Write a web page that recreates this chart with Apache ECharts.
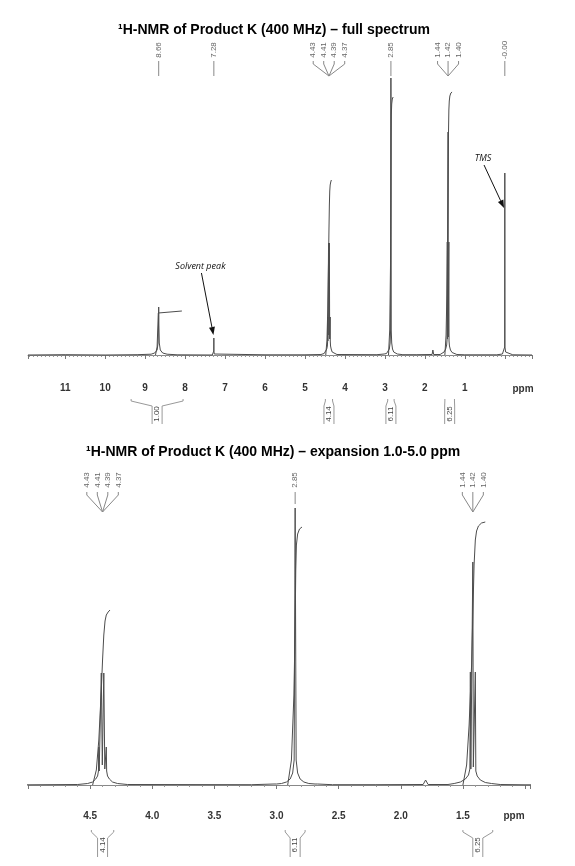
<!DOCTYPE html>
<html>
<head>
<meta charset="utf-8">
<title>1H-NMR Product K</title>
<script src="https://cdn.jsdelivr.net/npm/echarts@6/dist/echarts.min.js"></script>
<style>
  html, body { margin: 0; padding: 0; background: #fff; }
  #main { width: 575px; height: 866px; }
</style>
</head>
<body>
<div id="main"></div>
<script>
// ---- data (ppm, relative intensity) ----
var fullRange = [-0.68, 11.93];
var expansionRange = [0.96, 5.0];

var spectrum = [
  [11.93, 0], [11.0, 0.3], [10.0, 0], [9.2, 0.3], [8.85, 0.8], [8.76, 2], [8.70, 5], [8.675, 12],
  [8.665, 30], [8.66, 48], [8.655, 30], [8.645, 12], [8.62, 5], [8.56, 2], [8.45, 0.8], [8.2, 0.2],
  [7.32, 0], [7.29, 1], [7.282, 4], [7.28, 17], [7.278, 4], [7.27, 1], [7.24, 0],
  [6.0, 0.2], [5.0, 0.2],
  [4.60, 0.5], [4.52, 1.5], [4.48, 3], [4.455, 6], [4.44, 9], [4.433, 14], [4.43, 38], [4.427, 14],
  [4.418, 16], [4.41, 112], [4.402, 20], [4.398, 20], [4.39, 112], [4.382, 16], [4.373, 14],
  [4.37, 38], [4.367, 14], [4.36, 9], [4.345, 6], [4.32, 3], [4.28, 1.5], [4.20, 0.5],
  [3.2, 0.3], [3.02, 1], [3.01, 3], [3.00, 1], [2.96, 1.5], [2.92, 3], [2.89, 6], [2.87, 12],
  [2.858, 25], [2.85, 277], [2.842, 25], [2.83, 12], [2.81, 6], [2.78, 3], [2.74, 1.5],
  [2.69, 1], [2.68, 3], [2.67, 1], [2.55, 0.3],
  [2.2, 0.3], [1.82, 0.5], [1.80, 5], [1.78, 0.5],
  [1.62, 0.5], [1.57, 1.5], [1.52, 3], [1.48, 6], [1.455, 10], [1.444, 16], [1.44, 113], [1.436, 16],
  [1.424, 18], [1.42, 223], [1.416, 18], [1.404, 16], [1.40, 113], [1.396, 14], [1.385, 9],
  [1.36, 5], [1.32, 2.5], [1.27, 1.5], [1.2, 0.5], [1.0, 0.2],
  [0.2, 0.2], [0.06, 1], [0.02, 3], [0.004, 8], [0, 182], [-0.004, 8], [-0.02, 3], [-0.06, 1],
  [-0.2, 0.2], [-0.68, 0]
];

// integral curves
var integral100 = [[8.74, 0], [8.70, 8], [8.68, 30], [8.67, 42], [8.66, 44], [8.08, 44]];
var integral414 = [[4.48, 0], [4.45, 15], [4.43, 45], [4.41, 95], [4.40, 125], [4.39, 150],
  [4.38, 164], [4.37, 170], [4.355, 173], [4.34, 175]];
var integral611 = [[2.91, 0], [2.88, 25], [2.86, 90], [2.85, 160], [2.845, 215], [2.84, 240],
  [2.83, 251], [2.815, 256], [2.795, 258]];
var integral625 = [[1.50, 0], [1.47, 20], [1.45, 60], [1.43, 120], [1.42, 170], [1.41, 220],
  [1.40, 245], [1.39, 254], [1.375, 259], [1.35, 262], [1.32, 263]];
var integralCurves = [integral100, integral414, integral611, integral625];

// integral values and their ranges (ppm)
var integralValues = ['1.00', '4.14', '6.11', '6.25'];
var integralRanges = [[9.35, 8.05], [4.49, 4.31], [2.93, 2.77], [1.50, 1.26]];

// peak pick labels
var peakGroups = [
  { ppm: 8.66, labels: ['8.66'] },
  { ppm: 7.28, labels: ['7.28'] },
  { ppm: 4.40, labels: ['4.43', '4.41', '4.39', '4.37'] },
  { ppm: 2.85, labels: ['2.85'] },
  { ppm: 1.42, labels: ['1.44', '1.42', '1.40'] },
  { ppm: 0.00, labels: ['-0.00'] }
];

var titles = [
  '¹H-NMR of Product K (400 MHz) – full spectrum',
  '¹H-NMR of Product K (400 MHz) – expansion 1.0-5.0 ppm'
];

// ---- chart ----
var chart = echarts.init(document.getElementById('main'));
var LINE = '#4d4d4d';
var FONT = 'Liberation Sans, Arial, sans-serif';

function lineSeries(idx, data) {
  return {
    type: 'line', xAxisIndex: idx, yAxisIndex: idx, data: data,
    showSymbol: false, symbol: 'none', clip: true, silent: true,
    lineStyle: { color: LINE, width: 1 }
  };
}

var series = [];
[0, 1].forEach(function (g) {
  series.push(lineSeries(g, spectrum));
  integralCurves.forEach(function (c) { series.push(lineSeries(g, c)); });
});

function axis(g, range, split, minorSplit, fmt) {
  return {
    gridIndex: g, type: 'value', inverse: true, min: range[0], max: range[1],
    splitNumber: split,
    axisLine: { show: true, lineStyle: { color: '#888', width: 1 } },
    axisTick: { show: true, inside: false, length: 4, lineStyle: { color: '#777' } },
    minorTick: { show: true, splitNumber: minorSplit, length: 2, lineStyle: { color: '#999' } },
    splitLine: { show: false },
    axisLabel: {
      color: '#333', fontSize: 10, fontWeight: 'bold', fontFamily: FONT, margin: 8,
      showMinLabel: false, showMaxLabel: false, formatter: fmt
    }
  };
}

chart.setOption({
  animation: false,
  backgroundColor: '#fff',
  title: [
    { text: titles[0], left: 113, top: 18, textStyle: { fontFamily: FONT, fontSize: 14, fontWeight: 'bold', color: '#000' } },
    { text: titles[1], left: 81, top: 440, textStyle: { fontFamily: FONT, fontSize: 14, fontWeight: 'bold', color: '#000' } }
  ],
  grid: [
    { left: 28, width: 504, top: 65, height: 310 },
    { left: 28, width: 502, top: 493, height: 310 }
  ],
  xAxis: [
    axis(0, fullRange, 12, 10, function (v) {
      return (v === 0 || Math.abs(v - Math.round(v)) > 1e-6) ? '' : String(v);
    }),
    axis(1, expansionRange, 8, 5, function (v) {
      return (v < 1.45 || v > 4.55) ? '' : v.toFixed(1);
    })
  ],
  yAxis: [
    { gridIndex: 0, type: 'value', show: false, min: -20, max: 290 },
    { gridIndex: 1, type: 'value', show: false, min: -18, max: 292 }
  ],
  series: series
});

// ---- annotations (peak labels, integrals, arrows) ----
function px(g, x, y) { return chart.convertToPixel({ gridIndex: g }, [x, y]); }
function inRange(g, v) {
  var r = g === 0 ? fullRange : expansionRange;
  return v >= r[0] && v <= r[1];
}
var stroke = function (c) { return { stroke: c, fill: null, lineWidth: 1 }; };
var els = [];

var peakLayout = [
  { textY: 50, top: 61, bend: 64, end: 76, spacing: 10.5 },
  { textY: 480, top: 492, bend: 495, end: 512, singleEnd: 504, spacing: 10.5 }
];
var intLayout = [
  { top: 399, bend: 406, text: 414, bottom: 424 },
  { top: 830, bend: 838, text: 845, bottom: 857 }
];

[0, 1].forEach(function (g) {
  var L = peakLayout[g];
  peakGroups.forEach(function (grp) {
    if (!inRange(g, grp.ppm)) return;
    var cx = px(g, grp.ppm, 0)[0];
    var n = grp.labels.length;
    grp.labels.forEach(function (lab, k) {
      var lx = cx + (k - (n - 1) / 2) * L.spacing;
      els.push({
        type: 'text', x: lx, y: L.textY, rotation: Math.PI / 2, silent: true,
        style: { text: lab, fontSize: 8, fontFamily: FONT, fill: '#666', align: 'center', verticalAlign: 'middle' }
      });
      var pts = n === 1
        ? [[lx, L.top], [lx, L.singleEnd || L.end]]
        : [[lx, L.top], [lx, L.bend], [cx, L.end]];
      els.push({ type: 'polyline', silent: true, shape: { points: pts }, style: stroke('#888') });
    });
  });

  var I = intLayout[g];
  integralValues.forEach(function (val, i) {
    var r = integralRanges[i];
    if (!inRange(g, r[0]) || !inRange(g, r[1])) return;
    var a = px(g, r[0], 0)[0], b = px(g, r[1], 0)[0];
    var c = (a + b) / 2, bl = c - 5, br = c + 5;
    els.push({ type: 'polyline', silent: true, shape: { points: [[a, I.top], [a, I.top + 2], [bl, I.bend], [bl, I.bottom]] }, style: stroke('#999') });
    els.push({ type: 'polyline', silent: true, shape: { points: [[b, I.top], [b, I.top + 2], [br, I.bend], [br, I.bottom]] }, style: stroke('#999') });
    els.push({
      type: 'text', x: c, y: I.text, rotation: Math.PI / 2, silent: true,
      style: { text: val, fontSize: 8, fontFamily: FONT, fill: '#444', align: 'center', verticalAlign: 'middle' }
    });
  });

  // axis unit
  var axisEnd = px(g, g === 0 ? fullRange[0] : expansionRange[0], 0);
  els.push({
    type: 'text', x: axisEnd[0] - (g === 0 ? 9 : 16), y: g === 0 ? 389 : 816, silent: true,
    style: { text: 'ppm', fontSize: 10, fontWeight: 'bold', fontFamily: FONT, fill: '#333', align: 'center', verticalAlign: 'middle' }
  });
});

function arrow(label, tipPpm, tipVal, dx, dy) {
  var tip = px(0, tipPpm, tipVal);
  var tx = tip[0] + dx, ty = tip[1] + dy;
  els.push({
    type: 'text', x: tx, y: ty, silent: true,
    style: { text: label, fontSize: 9, fontStyle: 'italic', fontFamily: 'Open Sans, DejaVu Sans, sans-serif', fill: '#111', align: 'center', verticalAlign: 'middle' }
  });
  var sx = tx + 1, sy = ty + 7;
  var ang = Math.atan2(tip[1] - sy, tip[0] - sx);
  var hl = 8, hw = 3;
  var bx = tip[0] - hl * Math.cos(ang), by = tip[1] - hl * Math.sin(ang);
  els.push({ type: 'line', silent: true, shape: { x1: sx, y1: sy, x2: bx, y2: by }, style: { stroke: '#111', lineWidth: 1 } });
  els.push({
    type: 'polygon', silent: true,
    shape: { points: [[tip[0], tip[1]], [bx + hw * Math.sin(ang), by - hw * Math.cos(ang)], [bx - hw * Math.sin(ang), by + hw * Math.cos(ang)]] },
    style: { fill: '#111' }
  });
}
arrow('Solvent peak', 7.29, 20, -13, -69);
arrow('TMS', 0.02, 147, -21, -50);

chart.setOption({ graphic: { elements: els } });
</script>
</body>
</html>
